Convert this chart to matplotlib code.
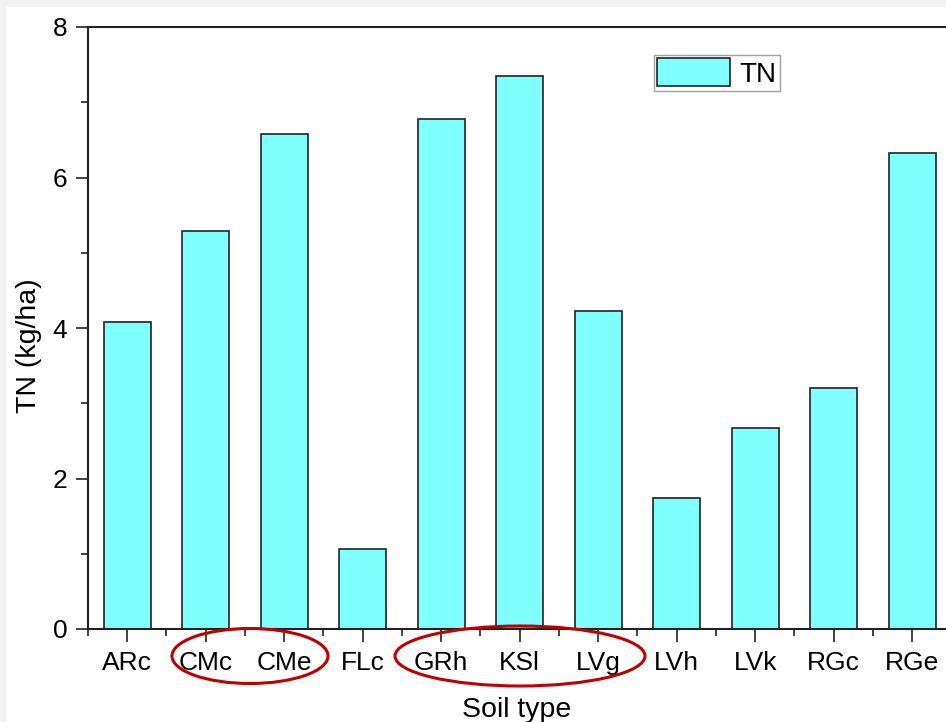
import matplotlib.pyplot as plt
from matplotlib.patches import Ellipse, Rectangle
from matplotlib.ticker import MultipleLocator, FixedLocator

plt.rcParams['font.family'] = ['Liberation Sans', 'DejaVu Sans']

soils = ['ARc', 'CMc', 'CMe', 'FLc', 'GRh', 'KSl', 'LVg', 'LVh', 'LVk', 'RGc', 'RGe']
tn = [4.08, 5.29, 6.58, 1.06, 6.78, 7.35, 4.23, 1.74, 2.67, 3.20, 6.33]

W, H = 946, 722
fig = plt.figure(figsize=(W / 100, H / 100), dpi=100)
ax = fig.add_axes([88 / W, (H - 629) / H, 1 - 88 / W, (629 - 27) / H])

x = list(range(len(soils)))
ax.bar(x, tn, width=0.6, color='#80ffff', edgecolor='#222222', linewidth=1.2, label='TN')

ax.set_xlim(-0.5, 10.43)
ax.set_ylim(0, 8)
ax.set_xticks(x)
ax.set_xticklabels(soils)
ax.xaxis.set_minor_locator(FixedLocator([i + 0.5 for i in range(-1, 11)]))
ax.yaxis.set_major_locator(MultipleLocator(2))
ax.yaxis.set_minor_locator(MultipleLocator(1))

ax.spines['right'].set_visible(False)
for s in ['left', 'bottom', 'top']:
    ax.spines[s].set_linewidth(1.5)
    ax.spines[s].set_color('#222222')

ax.tick_params(which='major', length=9, width=1.2, labelsize=19, pad=7, color='#222222')
ax.tick_params(which='minor', length=5, width=1.2, color='#222222')
ax.tick_params(axis='y', which='major', pad=6)

ax.set_xlabel('Soil type', fontsize=20.5, labelpad=16)
ax.set_ylabel('TN (kg/ha)', fontsize=20.5)
ax.yaxis.set_label_coords((42 - 88) / (W - 88), (629 - 346) / (629 - 27))

leg = ax.legend(loc='upper left', bbox_to_anchor=((654 - 88) / (W - 88), (629 - 55) / (629 - 27)),
                fontsize=20, frameon=True, fancybox=False, handlelength=2.6, handleheight=1.15,
                handletextpad=0.35, borderpad=0.12, borderaxespad=0)
leg.get_frame().set_edgecolor('#888888')
leg.get_frame().set_linewidth(1.0)

# red ellipses around tick labels
fig.patches.append(Ellipse((250 / W, (H - 656) / H), 156 / W, 55 / H, transform=fig.transFigure,
                           fill=False, edgecolor='#c00000', linewidth=2.2))
fig.patches.append(Ellipse((520 / W, (H - 656) / H), 250 / W, 60 / H, transform=fig.transFigure,
                           fill=False, edgecolor='#c00000', linewidth=2.2))

# light gray border on left and top
fig.patches.append(Rectangle((0, 0), 5 / W, 1, transform=fig.transFigure, color='#f2f2f2', zorder=-1))
fig.patches.append(Rectangle((0, 1 - 6 / H), 1, 6 / H, transform=fig.transFigure, color='#f2f2f2', zorder=-1))

fig.savefig('out.png', dpi=100)
